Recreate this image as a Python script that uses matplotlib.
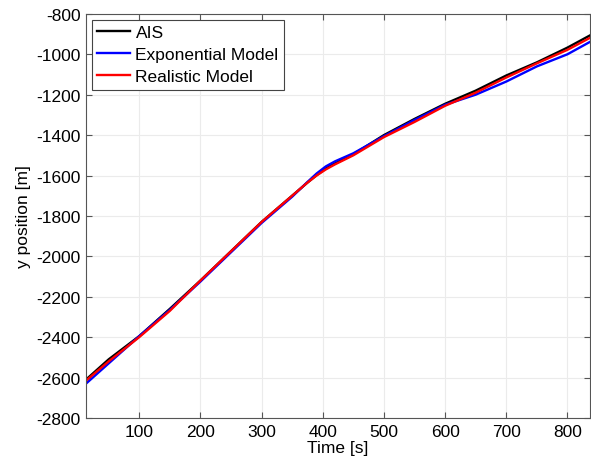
import matplotlib
matplotlib.use('Agg')
from matplotlib import pyplot as plt

plt.rcParams['font.family'] = ['Liberation Sans', 'DejaVu Sans']
plt.rcParams['axes.unicode_minus'] = False

# time samples [s]
t = [13, 50, 100, 150, 200, 250, 300, 350, 375, 390, 405, 420, 450,
     500, 550, 600, 650, 700, 750, 800, 836]

ais = [-2610, -2510, -2395, -2260, -2120, -1975, -1830, -1700, -1635, -1598,
       -1565, -1540, -1495, -1400, -1320, -1245, -1180, -1105, -1040, -967, -908]
expo = [-2630, -2530, -2395, -2265, -2125, -1980, -1835, -1705, -1632, -1590,
        -1555, -1530, -1490, -1405, -1325, -1250, -1200, -1135, -1060, -1000, -940]
real = [-2615, -2520, -2400, -2270, -2120, -1975, -1830, -1700, -1635, -1600,
        -1570, -1545, -1500, -1410, -1335, -1255, -1190, -1115, -1045, -978, -920]

xticks = [100, 200, 300, 400, 500, 600, 700, 800]
yticks = list(range(-2800, -799, 200))

fig = plt.figure(figsize=(5.91, 4.64), dpi=100)
ax = fig.add_axes([0.1455, 0.097, 0.853, 0.871])

ax.plot(t, ais, color='k', linewidth=1.7, label='AIS')
ax.plot(t, expo, color='#0000ff', linewidth=1.7, label='Exponential Model')
ax.plot(t, real, color='#ff0000', linewidth=1.7, label='Realistic Model')

ax.set_xlim(13, 837)
ax.set_ylim(-2800, -800)
ax.set_xticks(xticks)
ax.set_yticks(yticks)
ax.tick_params(direction='in', top=True, right=True, labelsize=12.5, length=4,
               color='#555555', pad=4)
ax.grid(True, linestyle='-', color='#ebebeb', linewidth=0.8)
for s in ax.spines.values():
    s.set_color('#555555')
    s.set_linewidth(0.8)

ax.set_xlabel('Time [s]', fontsize=12.5, labelpad=1)
ax.set_ylabel('y position [m]', fontsize=12.5, labelpad=4)

leg = ax.legend(loc='upper left', fontsize=12.5, fancybox=False, framealpha=1,
                edgecolor='#444444', handlelength=1.9, handletextpad=0.3,
                borderaxespad=0.35, labelspacing=0.4, borderpad=0.3)
leg.get_frame().set_linewidth(0.8)

fig.savefig('out.png')
